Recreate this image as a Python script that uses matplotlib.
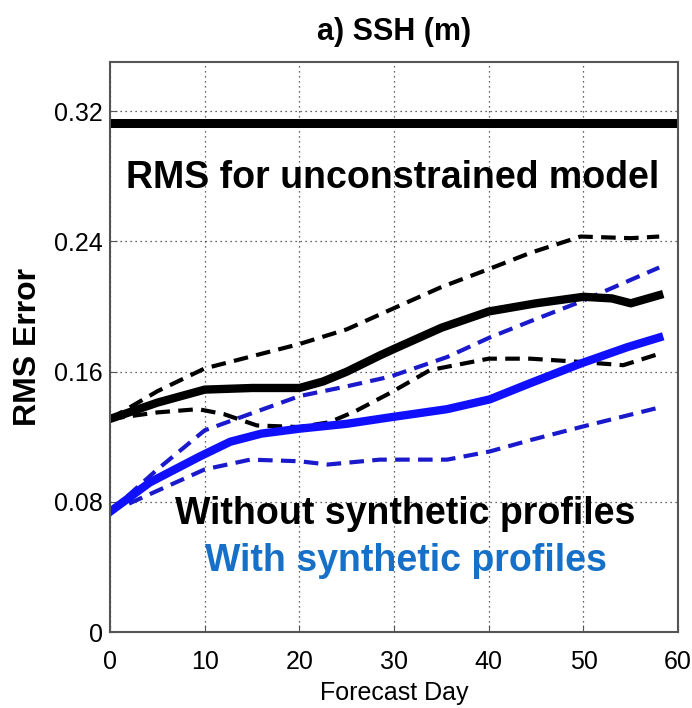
import matplotlib
matplotlib.use("Agg")
import matplotlib.pyplot as plt
import numpy as np

plt.rcParams['font.family'] = ['Liberation Sans', 'DejaVu Sans']

# forecast day samples
days_black = [0, 5, 10, 15, 20, 22.5, 25, 28.5, 30, 35, 40, 45, 50, 53, 55, 58]
mean_black = [0.131, 0.141, 0.149, 0.150, 0.150, 0.154, 0.160, 0.170, 0.174, 0.187, 0.197, 0.202, 0.206, 0.205, 0.202, 0.207]

days_bu = [0, 5, 10, 20, 25, 29.6, 35, 40, 44.4, 49.7, 55, 58]
upper_black = [0.131, 0.148, 0.162, 0.177, 0.186, 0.198, 0.212, 0.223, 0.233, 0.243, 0.242, 0.243]

days_bl = [0, 5, 9.3, 12, 15.5, 20, 23.2, 26, 29.6, 33.8, 40, 44.4, 49.7, 54.2, 58]
lower_black = [0.131, 0.135, 0.137, 0.134, 0.127, 0.126, 0.129, 0.136, 0.147, 0.161, 0.168, 0.168, 0.166, 0.164, 0.171]

days_blue = [0, 4.2, 9.5, 12.7, 16, 20, 25, 29.6, 35.6, 40.1, 44.4, 49.7, 54.6, 58]
mean_blue = [0.074, 0.092, 0.108, 0.117, 0.122, 0.125, 0.128, 0.132, 0.137, 0.143, 0.153, 0.165, 0.175, 0.181]

days_buu = [0, 5, 10, 13.8, 20, 25, 29.6, 35.6, 40.1, 44.4, 49.7, 58]
upper_blue = [0.074, 0.100, 0.124, 0.132, 0.145, 0.151, 0.157, 0.169, 0.181, 0.191, 0.203, 0.224]

days_bul = [2, 3.9, 10, 14.8, 20, 23, 28.5, 35.6, 40.1, 44.4, 49.7, 58]
lower_blue = [0.079, 0.084, 0.100, 0.106, 0.105, 0.103, 0.106, 0.106, 0.111, 0.118, 0.126, 0.138]

rms_unconstrained = 0.313

fig = plt.figure(figsize=(6.92, 7.08), dpi=100)
ax = fig.add_axes([0.159, 0.107, 0.821, 0.805])

dash = (0, (3.5, 2.0))
ax.axhline(rms_unconstrained, color='black', lw=6.5, solid_capstyle='butt')
ax.plot(days_bu, upper_black, color='black', lw=3, linestyle=dash)
ax.plot(days_bl, lower_black, color='black', lw=3, linestyle=dash)
ax.plot(days_buu, upper_blue, color='#1a1acc', lw=3, linestyle=dash)
ax.plot(days_bul, lower_blue, color='#1a1acc', lw=3, linestyle=dash)
ax.plot(days_black, mean_black, color='black', lw=6)
ax.plot(days_blue, mean_blue, color='#1010ff', lw=6)

ax.set_xlim(0, 60)
ax.set_ylim(0, 0.35)
ax.set_xticks(np.arange(0, 61, 10))
ax.set_yticks([0, 0.08, 0.16, 0.24, 0.32])
ax.set_yticklabels(['0', '0.08', '0.16', '0.24', '0.32'])
ax.tick_params(direction='in', labelsize=18, length=5, color='#555555')
ax.tick_params(axis='x', pad=13)
ax.tick_params(axis='y', pad=5)
ax.grid(True, linestyle=(0, (1, 3)), color='#333333', lw=0.9)
for s in ax.spines.values():
    s.set_color('#555555')
    s.set_linewidth(1.5)

ax.set_title('a) SSH (m)', fontsize=22, fontweight='bold', pad=16)
ax.set_xlabel('Forecast Day', fontsize=18, labelpad=5)
ax.set_ylabel('RMS Error', fontsize=23, fontweight='bold', labelpad=8)

ax.text(29.8, 0.279, 'RMS for unconstrained model', ha='center', va='center',
        fontsize=27, fontweight='bold')
ax.text(31.2, 0.0728, 'Without synthetic profiles', ha='center', va='center',
        fontsize=27, fontweight='bold')
ax.text(31.2, 0.0435, 'With synthetic profiles', ha='center', va='center',
        fontsize=27, fontweight='bold', color='#1670c8')

fig.savefig('out.png', dpi=100)
